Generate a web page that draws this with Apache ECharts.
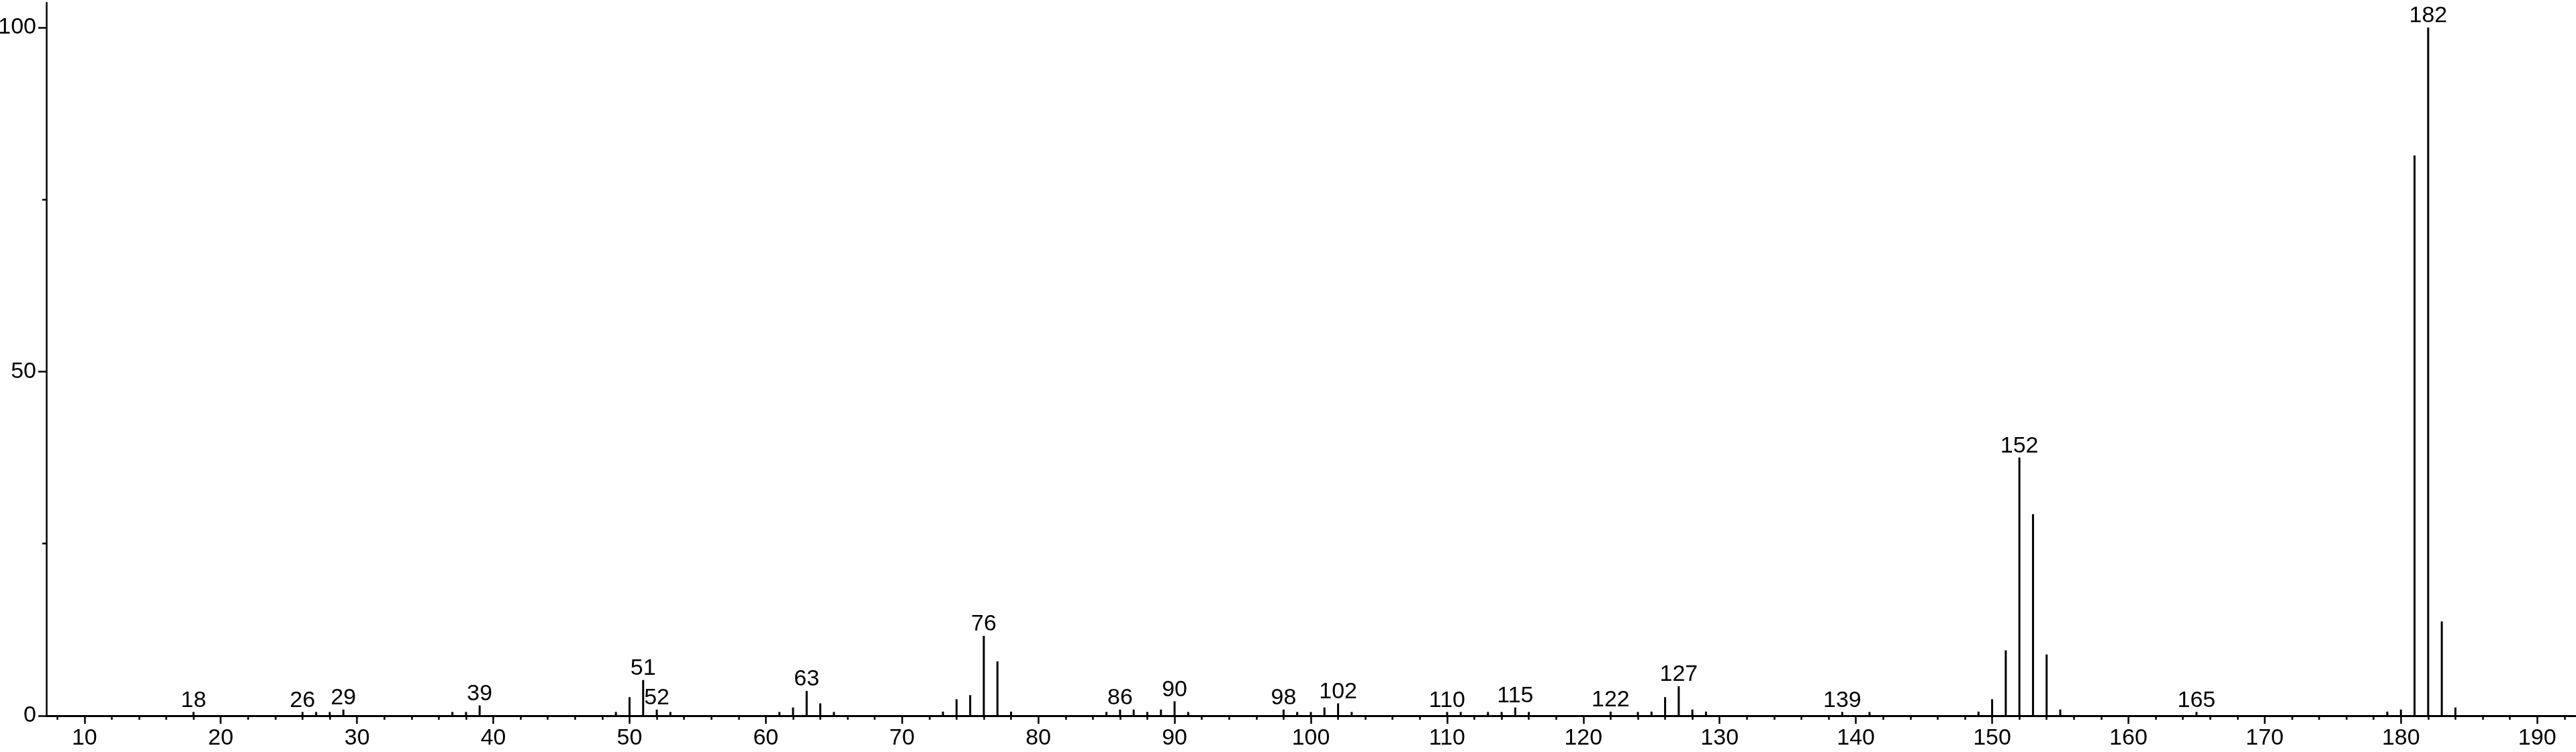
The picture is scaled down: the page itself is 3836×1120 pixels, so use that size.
<!DOCTYPE html>
<html>
<head>
<meta charset="utf-8">
<script src="https://cdn.jsdelivr.net/npm/echarts@6/dist/echarts.min.js"></script>
<style>
  html, body { margin: 0; padding: 0; background: #fff; }
  #chart { width: 3836px; height: 1120px; }
</style>
</head>
<body>
<div id="chart"></div>
<script>
// m/z values of the peaks
const mz = [18,26,27,28,29,37,38,39,49,50,51,52,53,61,62,63,64,65,73,74,75,76,77,78,85,86,87,88,89,90,91,98,99,100,101,102,103,110,111,113,114,115,116,122,124,125,126,127,128,129,139,141,149,150,151,152,153,154,155,165,179,180,181,182,183,184];
// relative intensities (%)
const intensity = [0.55,0.55,0.55,0.55,0.9,0.55,0.55,1.5,0.55,2.7,5.2,0.9,0.55,0.55,1.2,3.6,1.8,0.55,0.6,2.4,3.0,11.6,7.9,0.6,0.55,0.9,0.9,0.55,0.9,2.1,0.55,0.9,0.55,0.55,1.2,1.8,0.55,0.55,0.55,0.55,0.55,1.2,0.55,0.6,0.55,0.6,2.7,4.3,0.9,0.6,0.55,0.55,0.6,2.4,9.5,37.5,29.3,8.9,0.9,0.55,0.6,0.9,81.4,100,13.7,1.2];
// peaks that carry an m/z label
const labeledPeaks = [18,26,29,39,51,52,63,76,86,90,98,102,110,115,122,127,139,152,165,182];
// axis tick labels
const xTickLabels = [10,20,30,40,50,60,70,80,90,100,110,120,130,140,150,160,170,180,190];
const xMinorTicks = [8,12,14,16,18,22,24,26,28,32,34,36,38,42,44,46,48,52,54,56,58,62,64,66,68,72,74,76,78,82,84,86,88,92,94,96,98,102,104,106,108,112,114,116,118,122,124,126,128,132,134,136,138,142,144,146,148,152,154,156,158,162,164,166,168,172,174,176,178,182,184,186,188,192];
const yTickLabels = [0,50,100];
const yMinorTicks = [25,75];

const FONT = 'Liberation Sans, Arial, sans-serif';
const chart = echarts.init(document.getElementById('chart'));

const seriesData = mz.map((m, i) => {
  const item = { value: [m, intensity[i]] };
  if (labeledPeaks.indexOf(m) >= 0) item.label = { show: true };
  return item;
});

chart.setOption({
  animation: false,
  backgroundColor: '#ffffff',
  grid: { left: 69, right: 1, top: 4, bottom: 54, containLabel: false, outerBoundsMode: 'none' },
  xAxis: [
    {
      type: 'value', min: 7.2, max: 192.8, position: 'bottom',
      splitLine: { show: false },
      axisLine: { show: true, onZero: false, lineStyle: { color: '#000', width: 3 } },
      axisTick: { show: true, customValues: xTickLabels, length: 12, lineStyle: { color: '#000', width: 2.5 } },
      axisLabel: { show: true, customValues: xTickLabels, margin: 17, color: '#000', fontSize: 34, fontFamily: FONT }
    },
    {
      type: 'value', min: 7.2, max: 192.8, position: 'bottom', offset: 0,
      splitLine: { show: false },
      axisLine: { show: false, onZero: false },
      axisTick: { show: true, customValues: xMinorTicks, length: 6, lineStyle: { color: '#000', width: 2.5 } },
      axisLabel: { show: false }
    }
  ],
  yAxis: [
    {
      type: 'value', min: 0, max: 103.6, position: 'left',
      splitLine: { show: false },
      axisLine: { show: true, onZero: false, lineStyle: { color: '#000', width: 2.5 } },
      axisTick: { show: true, customValues: yTickLabels, length: 12, lineStyle: { color: '#000', width: 2.5 } },
      axisLabel: { show: true, customValues: yTickLabels, margin: 15, color: '#000', fontSize: 34, fontFamily: FONT }
    },
    {
      type: 'value', min: 0, max: 103.6, position: 'left', offset: 0,
      splitLine: { show: false },
      axisLine: { show: false, onZero: false },
      axisTick: { show: true, customValues: yMinorTicks, length: 6, lineStyle: { color: '#000', width: 2.5 } },
      axisLabel: { show: false }
    }
  ],
  series: [
    {
      type: 'bar',
      xAxisIndex: 0, yAxisIndex: 0,
      barWidth: 3,
      itemStyle: { color: '#000' },
      label: {
        show: false, position: 'top', distance: 0,
        color: '#000', fontSize: 34, fontFamily: FONT,
        formatter: p => String(p.value[0])
      },
      data: seriesData
    }
  ]
});
</script>
</body>
</html>
